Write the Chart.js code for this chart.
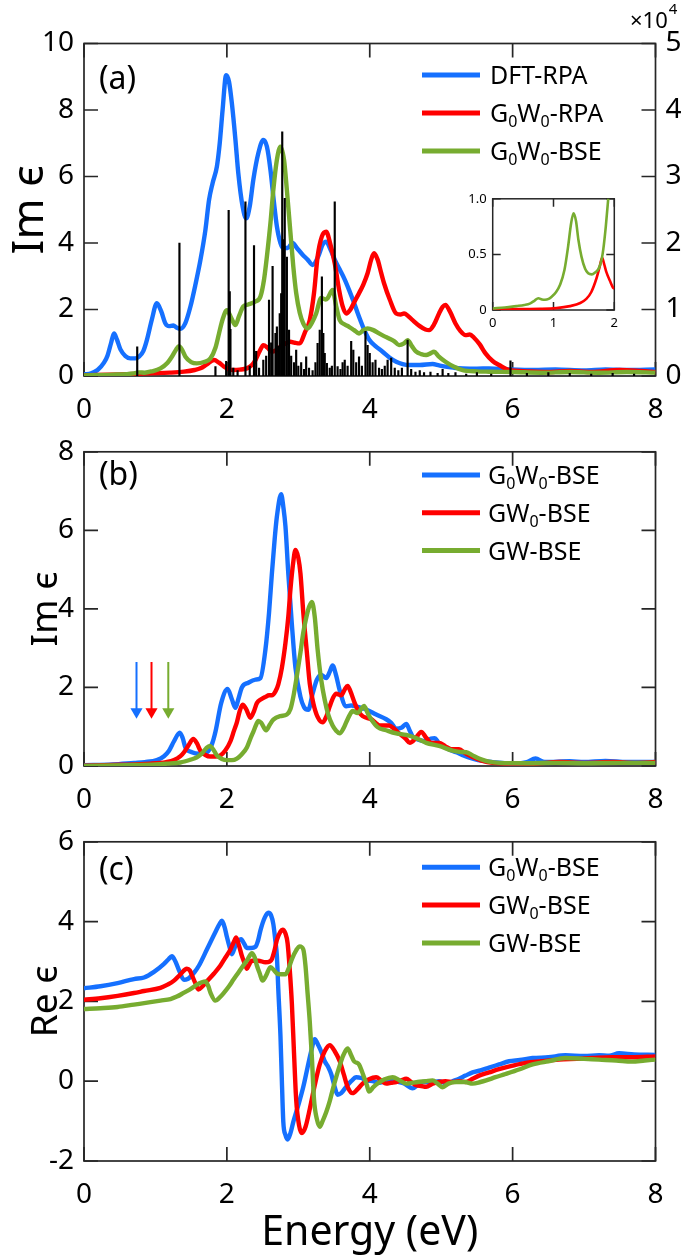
<!DOCTYPE html>
<html><head><meta charset="utf-8">
<script src="https://cdn.jsdelivr.net/npm/chart.js@4.4.1/dist/chart.umd.min.js"></script>
<style>
html,body{margin:0;padding:0;background:#fff;}
#wrap{position:relative;width:685px;height:1258px;overflow:hidden;background:#fff;}
canvas{position:absolute;}
</style></head><body>
<div id="wrap">
<canvas id="cA" width="685" height="425" style="left:0;top:0;width:685px;height:425px"></canvas>
<canvas id="cB" width="685" height="390" style="left:0;top:425px;width:685px;height:390px"></canvas>
<canvas id="cC" width="685" height="443" style="left:0;top:815px;width:685px;height:443px"></canvas>
<canvas id="cIn" width="185" height="150" style="left:440px;top:185px;width:185px;height:150px"></canvas>
</div>
<script>
// ---------- DATA ----------
const xTicks = [0, 2, 4, 6, 8];
// Panel (a): Im eps
const aDftE = [0,0.1,0.19,0.28,0.33,0.38,0.42,0.46,0.51,0.58,0.65,0.72,0.77,0.83,0.88,0.95,1.02,1.08,1.14,1.19,1.25,1.30,1.35,1.42,1.49,1.56,1.63,1.70,1.75,1.80,1.86,1.90,1.94,1.99,2.03,2.07,2.12,2.16,2.22,2.27,2.32,2.37,2.44,2.51,2.56,2.61,2.66,2.70,2.75,2.79,2.85,2.92,2.98,3.06,3.13,3.20,3.28,3.34,3.39,3.45,3.52,3.58,3.65,3.71,3.78,3.85,3.92,3.99,4.08,4.18,4.28,4.37,4.46,4.55,4.70,4.88,4.97,5.06,5.18,5.30,5.50,5.67,5.95,6.3,6.6,7.0,7.3,7.6,8.0];
const aDftIm = [0.05,0.08,0.18,0.4,0.62,1.0,1.28,1.1,0.8,0.6,0.53,0.53,0.58,0.75,1.08,1.7,2.19,1.95,1.58,1.5,1.52,1.45,1.42,1.6,2.09,2.75,3.49,4.4,5.29,5.8,6.3,7.0,8.0,9.05,8.85,8.2,7.1,6.1,5.1,4.74,5.1,5.9,6.7,7.1,6.9,6.2,5.2,4.5,4.0,3.85,3.85,4.0,3.85,3.65,3.5,3.34,3.6,3.95,4.04,3.8,3.45,3.2,2.9,2.59,2.2,1.78,1.4,1.1,0.9,0.73,0.55,0.43,0.36,0.33,0.33,0.36,0.32,0.28,0.25,0.23,0.22,0.23,0.2,0.18,0.2,0.17,0.2,0.18,0.2];
const aG0W0RpaE = [0,0.5,0.93,1.2,1.40,1.55,1.63,1.72,1.82,1.89,1.96,2.03,2.09,2.18,2.28,2.35,2.40,2.46,2.51,2.57,2.63,2.69,2.75,2.82,2.89,2.95,3.02,3.09,3.16,3.22,3.27,3.33,3.39,3.45,3.51,3.57,3.62,3.67,3.73,3.79,3.85,3.91,3.97,4.02,4.06,4.11,4.16,4.20,4.28,4.37,4.43,4.48,4.54,4.60,4.70,4.78,4.83,4.90,4.97,5.02,5.06,5.12,5.20,5.27,5.34,5.40,5.46,5.54,5.62,5.72,5.81,5.95,6.2,6.5,6.8,7.1,7.5,7.8,8.0];
const aG0W0RpaIm = [0.02,0.05,0.08,0.1,0.13,0.18,0.23,0.35,0.48,0.4,0.28,0.2,0.18,0.19,0.23,0.33,0.48,0.75,0.93,0.85,0.73,0.78,0.88,0.98,1.03,1.0,0.98,1.3,1.68,2.5,3.59,4.2,4.34,3.95,3.39,2.6,2.1,1.88,2.0,2.25,2.49,2.75,3.09,3.5,3.69,3.5,3.1,2.79,2.3,1.88,1.85,1.88,1.8,1.68,1.5,1.4,1.38,1.55,1.88,2.08,2.14,1.95,1.58,1.35,1.23,1.25,1.15,0.95,0.68,0.45,0.33,0.18,0.14,0.12,0.15,0.12,0.18,0.15,0.12];
const aG0W0BseE = [0,0.4,0.70,0.77,0.85,0.95,1.07,1.17,1.23,1.29,1.33,1.37,1.42,1.50,1.58,1.68,1.77,1.84,1.89,1.94,2.00,2.06,2.12,2.17,2.23,2.30,2.40,2.47,2.52,2.56,2.61,2.65,2.70,2.75,2.80,2.84,2.89,2.93,2.97,3.02,3.07,3.13,3.19,3.25,3.32,3.38,3.41,3.48,3.53,3.58,3.65,3.71,3.78,3.85,3.91,3.97,4.05,4.13,4.20,4.27,4.34,4.41,4.48,4.53,4.59,4.65,4.72,4.79,4.85,4.90,4.96,5.06,5.18,5.30,5.50,5.67,6.0,6.4,6.8,7.2,7.6,8.0];
const aG0W0BseIm = [0.02,0.04,0.08,0.11,0.1,0.14,0.23,0.4,0.58,0.8,0.9,0.8,0.58,0.42,0.38,0.42,0.53,0.85,1.28,1.7,1.98,1.75,1.53,1.8,2.09,2.15,2.24,2.39,2.9,3.59,4.6,5.59,6.5,6.9,6.5,5.59,4.3,3.29,2.5,1.9,1.58,1.43,1.6,1.88,2.35,2.3,2.34,2.59,2.1,1.68,1.55,1.48,1.38,1.28,1.38,1.43,1.38,1.28,1.2,1.13,1.05,0.93,0.98,1.08,0.9,0.73,0.66,0.63,0.68,0.73,0.6,0.43,0.28,0.18,0.14,0.13,0.12,0.1,0.12,0.1,0.12,0.1];
// oscillator strengths (right axis, x10^4)
const stickE = [0.745,1.336,1.84,1.99,2.025,2.04,2.05,2.09,2.15,2.26,2.32,2.38,2.41,2.45,2.51,2.55,2.59,2.62,2.64,2.68,2.70,2.72,2.74,2.76,2.775,2.79,2.81,2.84,2.87,2.90,2.94,2.97,3.00,3.04,3.08,3.11,3.15,3.20,3.24,3.27,3.30,3.33,3.35,3.37,3.40,3.44,3.47,3.51,3.55,3.59,3.62,3.65,3.69,3.74,3.77,3.81,3.85,3.89,3.94,3.97,4.00,4.04,4.08,4.13,4.17,4.21,4.25,4.30,4.35,4.40,4.45,4.53,4.58,4.64,4.70,4.76,4.85,4.95,5.02,5.10,5.20,5.35,5.50,5.70,5.97,6.20,6.50,6.80,7.10,7.40,7.70];
const stickF = [0.44,2.0,0.14,0.22,2.49,1.27,0.7,0.12,0.08,2.62,0.15,1.96,0.37,0.12,0.24,0.3,1.14,0.5,1.65,0.64,0.74,0.45,0.94,1.24,3.67,2.05,2.67,1.79,0.69,0.3,0.2,0.39,0.15,0.2,0.1,0.29,0.12,0.08,0.2,0.49,0.69,1.49,0.64,0.34,0.19,0.12,0.15,2.62,0.14,0.1,0.2,0.24,0.15,0.52,0.39,0.2,0.29,0.15,0.67,0.46,0.34,0.2,0.24,0.12,0.1,0.15,0.24,0.27,0.12,0.08,0.12,0.54,0.1,0.06,0.08,0.05,0.06,0.04,0.1,0.04,0.05,0.03,0.05,0.03,0.23,0.04,0.05,0.04,0.03,0.04,0.03];
// inset (0-2 eV)
const inG0W0BseE = [0,0.2,0.39,0.52,0.61,0.69,0.75,0.81,0.86,0.92,0.97,1.04,1.11,1.18,1.24,1.29,1.33,1.37,1.41,1.46,1.52,1.57,1.63,1.69,1.74,1.79,1.82,1.86,1.90,1.93];
const inG0W0BseIm = [0.014,0.022,0.035,0.045,0.057,0.085,0.106,0.095,0.092,0.1,0.12,0.16,0.23,0.36,0.57,0.78,0.87,0.8,0.63,0.48,0.37,0.33,0.32,0.34,0.37,0.45,0.55,0.75,1.0,1.2];
const inG0W0RpaE = [0,0.4,0.78,1.05,1.27,1.44,1.54,1.62,1.71,1.76,1.80,1.83,1.87,1.93,1.98,2.0];
const inG0W0RpaIm = [0.006,0.008,0.01,0.017,0.035,0.063,0.1,0.16,0.29,0.39,0.47,0.42,0.34,0.26,0.2,0.19];
// Panel (b): Im eps
const bG0W0E = [0,0.4,0.70,0.85,1.02,1.12,1.19,1.26,1.34,1.38,1.42,1.51,1.61,1.72,1.79,1.84,1.92,2.01,2.07,2.12,2.16,2.21,2.30,2.40,2.47,2.54,2.59,2.63,2.67,2.70,2.76,2.79,2.82,2.86,2.91,2.96,3.03,3.08,3.14,3.20,3.26,3.32,3.39,3.44,3.48,3.53,3.58,3.67,3.74,3.81,3.88,3.95,4.09,4.23,4.30,4.37,4.45,4.51,4.56,4.60,4.70,4.79,4.86,4.91,4.96,5.02,5.11,5.21,5.32,5.44,5.58,5.72,6.04,6.2,6.32,6.45,6.8,7.0,7.3,7.6,8.0];
const bG0W0Im = [0.02,0.04,0.08,0.1,0.15,0.25,0.39,0.63,0.85,0.72,0.47,0.35,0.31,0.35,0.55,0.87,1.6,1.96,1.7,1.48,1.7,2.0,2.12,2.2,2.24,2.97,3.9,4.9,5.8,6.35,6.92,6.6,6.1,4.9,3.6,2.5,1.76,1.5,1.43,1.84,2.2,2.32,2.24,2.4,2.56,2.3,1.92,1.52,1.54,1.52,1.48,1.44,1.31,1.19,1.1,0.95,0.98,1.07,0.9,0.75,0.66,0.63,0.7,0.71,0.6,0.51,0.42,0.35,0.26,0.19,0.13,0.1,0.06,0.1,0.19,0.1,0.12,0.1,0.13,0.1,0.1];
const bGW0E = [0,0.5,0.93,1.15,1.26,1.35,1.40,1.47,1.53,1.58,1.63,1.70,1.77,1.84,1.91,1.98,2.05,2.10,2.14,2.18,2.22,2.27,2.33,2.38,2.42,2.48,2.54,2.59,2.63,2.68,2.72,2.77,2.82,2.86,2.89,2.93,2.96,3.00,3.03,3.07,3.12,3.16,3.21,3.27,3.34,3.39,3.44,3.49,3.53,3.60,3.65,3.69,3.73,3.79,3.84,3.90,4.02,4.08,4.14,4.27,4.34,4.41,4.50,4.56,4.64,4.72,4.79,4.86,4.97,5.06,5.14,5.25,5.34,5.44,5.58,5.72,6.0,6.28,6.65,7.0,7.4,7.7,8.0];
const bGW0Im = [0.01,0.03,0.06,0.1,0.15,0.25,0.35,0.55,0.69,0.58,0.39,0.28,0.24,0.24,0.27,0.4,0.63,0.9,1.11,1.4,1.56,1.45,1.23,1.4,1.6,1.7,1.76,1.8,1.8,1.9,2.08,2.5,3.13,3.8,4.5,5.2,5.5,5.3,4.9,3.9,2.89,2.1,1.6,1.25,1.11,1.25,1.52,1.75,1.84,1.8,1.95,2.04,1.9,1.6,1.4,1.27,1.19,1.1,1.03,1.03,0.95,0.83,0.7,0.59,0.7,0.87,0.72,0.59,0.59,0.5,0.43,0.43,0.32,0.23,0.13,0.08,0.06,0.06,0.1,0.08,0.1,0.08,0.1];
const bGWE = [0,0.6,1.0,1.16,1.35,1.49,1.58,1.65,1.71,1.76,1.81,1.86,1.93,2.00,2.07,2.14,2.21,2.28,2.33,2.37,2.41,2.44,2.48,2.55,2.60,2.65,2.75,2.84,2.89,2.93,2.98,3.03,3.07,3.11,3.15,3.19,3.23,3.27,3.32,3.37,3.42,3.48,3.53,3.58,3.63,3.67,3.72,3.76,3.83,3.88,3.92,3.97,4.02,4.11,4.23,4.37,4.51,4.65,4.79,4.97,5.16,5.26,5.35,5.44,5.53,5.65,5.81,6.2,6.6,7.0,7.5,8.0];
const bGWIm = [0.0,0.02,0.04,0.06,0.09,0.16,0.22,0.32,0.45,0.51,0.42,0.27,0.18,0.15,0.15,0.19,0.3,0.47,0.7,0.87,1.05,1.15,1.1,0.91,1.05,1.18,1.27,1.31,1.45,1.76,2.3,2.89,3.4,3.77,4.05,4.18,3.8,2.97,2.2,1.68,1.3,1.03,0.9,0.83,0.95,1.11,1.3,1.4,1.35,1.45,1.53,1.35,1.19,0.99,0.91,0.83,0.79,0.71,0.59,0.51,0.39,0.36,0.35,0.27,0.19,0.12,0.08,0.07,0.08,0.07,0.08,0.08];
// arrows (onset markers) in (b)
const arrowE = [0.735, 0.945, 1.18];
const arrowTop = 2.65, arrowHead = 1.38;
// Panel (c): Re eps
const cG0W0E = [0,0.23,0.47,0.70,0.84,0.98,1.12,1.18,1.23,1.28,1.33,1.40,1.45,1.49,1.55,1.61,1.72,1.84,1.90,1.93,1.97,2.00,2.04,2.07,2.11,2.14,2.20,2.24,2.28,2.34,2.40,2.44,2.47,2.53,2.58,2.62,2.65,2.68,2.70,2.72,2.75,2.77,2.79,2.82,2.85,2.89,2.93,3.0,3.07,3.13,3.18,3.23,3.28,3.33,3.37,3.42,3.46,3.51,3.55,3.60,3.67,3.74,3.81,3.88,3.95,4.04,4.13,4.22,4.32,4.40,4.48,4.60,4.68,4.74,4.88,4.97,5.07,5.16,5.25,5.34,5.44,5.55,5.67,5.81,5.95,6.10,6.28,6.50,6.74,7.0,7.21,7.35,7.49,7.7,8.0];
const cG0W0Re = [2.33,2.38,2.46,2.56,2.6,2.74,2.94,3.05,3.13,3.0,2.78,2.54,2.56,2.62,2.74,2.9,3.3,3.74,3.95,4.02,3.85,3.62,3.35,3.18,3.35,3.46,3.56,3.45,3.34,3.34,3.37,3.55,3.78,4.1,4.22,4.15,3.94,3.5,3.14,2.3,1.14,0.0,-1.02,-1.35,-1.46,-1.3,-1.02,-0.6,-0.14,0.35,0.75,1.05,0.9,0.7,0.5,0.35,0.18,-0.15,-0.34,-0.3,-0.14,0.0,0.1,0.08,0.02,0.0,-0.04,0.0,0.02,-0.02,-0.06,-0.18,-0.08,-0.02,-0.02,0.0,-0.06,0.0,0.06,0.14,0.22,0.27,0.34,0.42,0.5,0.53,0.58,0.6,0.65,0.63,0.65,0.64,0.7,0.67,0.66];
const cGW0E = [0,0.23,0.47,0.70,0.84,1.07,1.17,1.26,1.35,1.44,1.48,1.51,1.56,1.60,1.66,1.72,1.82,1.91,1.98,2.05,2.10,2.13,2.17,2.21,2.25,2.28,2.32,2.35,2.44,2.54,2.60,2.63,2.67,2.70,2.75,2.78,2.82,2.85,2.88,2.91,2.94,2.97,3.01,3.05,3.10,3.16,3.23,3.30,3.37,3.44,3.51,3.58,3.64,3.69,3.76,3.83,3.90,3.99,4.09,4.16,4.23,4.30,4.37,4.44,4.51,4.58,4.65,4.72,4.79,4.88,4.97,5.06,5.16,5.25,5.34,5.44,5.53,5.67,5.81,6.0,6.18,6.4,6.65,6.9,7.12,7.4,7.67,8.0];
const cGW0Re = [2.04,2.08,2.14,2.21,2.26,2.34,2.42,2.52,2.68,2.82,2.78,2.66,2.45,2.3,2.38,2.5,2.7,2.9,3.1,3.3,3.5,3.6,3.4,3.14,2.95,2.82,2.95,3.02,3.02,2.98,3.0,3.06,3.3,3.54,3.75,3.8,3.7,3.46,2.8,1.94,0.7,-0.46,-1.1,-1.3,-1.15,-0.7,-0.1,0.42,0.75,0.9,0.75,0.5,0.15,-0.14,-0.3,-0.2,-0.06,0.05,0.1,0.02,-0.06,-0.04,-0.02,0.02,0.06,-0.02,-0.1,-0.12,-0.14,-0.06,-0.02,0.0,-0.02,0.0,-0.02,0.06,0.14,0.22,0.3,0.39,0.46,0.5,0.54,0.56,0.58,0.6,0.6,0.62];
const cGWE = [0,0.23,0.47,0.70,0.93,1.07,1.21,1.30,1.40,1.50,1.58,1.65,1.70,1.74,1.77,1.84,1.90,1.96,2.03,2.09,2.16,2.23,2.29,2.35,2.39,2.42,2.46,2.50,2.55,2.61,2.65,2.70,2.76,2.82,2.87,2.91,2.97,3.02,3.07,3.10,3.13,3.16,3.19,3.22,3.26,3.30,3.34,3.39,3.44,3.48,3.53,3.57,3.63,3.69,3.74,3.78,3.85,3.89,3.92,3.96,3.99,4.05,4.11,4.20,4.32,4.42,4.51,4.60,4.67,4.78,4.88,4.95,5.02,5.10,5.21,5.33,5.44,5.55,5.63,5.76,5.90,6.1,6.28,6.5,6.74,7.0,7.21,7.45,7.67,7.85,8.0];
const cGWRe = [1.81,1.83,1.86,1.92,1.98,2.02,2.06,2.12,2.22,2.32,2.42,2.48,2.5,2.38,2.22,2.02,2.1,2.22,2.38,2.54,2.72,2.9,3.05,3.21,3.1,2.9,2.7,2.52,2.65,2.86,2.8,2.7,2.68,2.68,2.85,3.06,3.28,3.38,3.3,2.9,2.2,1.5,0.6,-0.46,-0.95,-1.14,-1.0,-0.78,-0.5,-0.22,0.1,0.34,0.65,0.82,0.65,0.5,0.42,0.25,0.1,-0.1,-0.26,-0.15,-0.06,0.04,0.1,0.02,-0.06,-0.04,-0.02,0.0,0.02,-0.06,-0.15,-0.06,-0.02,-0.02,-0.06,-0.02,0.02,0.1,0.18,0.3,0.42,0.5,0.58,0.56,0.54,0.52,0.49,0.52,0.54];

// ---------- STYLE ----------
const BLUE = '#1570FF', RED = '#FF0000', GREEN = '#77AC30', AX = '#262626';
const FONT = "'Noto Sans', 'Open Sans', sans-serif";
Chart.defaults.font.family = FONT;
Chart.defaults.color = '#000';

function xy(E, V) { return E.map((e, i) => ({ x: e, y: V[i] })); }
function curve(label, E, V, color, order, legendIndex, w) {
  return { type: 'line', label, data: xy(E, V), borderColor: color, backgroundColor: color,
    borderWidth: w || 4.4, pointRadius: 0, cubicInterpolationMode: 'monotone', fill: false, order, legendIndex };
}

const boxTicks = {
  id: 'boxTicks',
  beforeDraw(chart, args, o) {
    const { ctx, chartArea: a } = chart;
    if (o.bg) { ctx.save(); ctx.fillStyle = '#fff'; ctx.fillRect(a.left, a.top, a.right - a.left, a.bottom - a.top); ctx.restore(); }
  },
  beforeDatasetsDraw(chart, args, o) {
    const { ctx, chartArea: a } = chart;
    const xs = chart.scales.x, ys = chart.scales.y, L = o.len;
    ctx.save();
    ctx.strokeStyle = AX; ctx.lineWidth = o.lw;
    ctx.beginPath();
    xs.ticks.forEach(t => { const p = xs.getPixelForValue(t.value);
      ctx.moveTo(p, a.bottom); ctx.lineTo(p, a.bottom - L); ctx.moveTo(p, a.top); ctx.lineTo(p, a.top + L); });
    ys.ticks.forEach(t => { const p = ys.getPixelForValue(t.value);
      ctx.moveTo(a.left, p); ctx.lineTo(a.left + L, p); ctx.moveTo(a.right, p); ctx.lineTo(a.right - L, p); });
    ctx.stroke();
    ctx.strokeRect(a.left, a.top, a.right - a.left, a.bottom - a.top);
    ctx.restore();
  }
};

function drawRich(ctx, text, x, y, size) {
  // '₀' drawn as a lowered, smaller 0
  let cx = x;
  for (const part of text.split(/(₀)/)) {
    if (!part) continue;
    if (part === '₀') {
      ctx.font = `${Math.round(size * 0.62)}px ${FONT}`;
      ctx.fillText('0', cx, y + size * 0.2);
      cx += ctx.measureText('0').width;
    } else {
      ctx.font = `${size}px ${FONT}`;
      ctx.fillText(part, cx, y);
      cx += ctx.measureText(part).width;
    }
  }
}

const panelText = {
  id: 'panelText',
  afterDraw(chart, args, o) {
    const ctx = chart.ctx;
    ctx.save();
    ctx.fillStyle = '#000';
    ctx.textAlign = 'left'; ctx.textBaseline = 'alphabetic';
    ctx.font = `${o.tagSize}px ${FONT}`;
    ctx.fillText(o.tag, o.tagX, o.tagY);
    const items = chart.data.datasets.filter(d => d.legendIndex !== undefined)
      .sort((p, q) => p.legendIndex - q.legendIndex);
    items.forEach((d, i) => {
      const y = o.legY + i * o.legDy;
      ctx.strokeStyle = d.borderColor; ctx.lineWidth = 5; ctx.lineCap = 'butt';
      ctx.beginPath(); ctx.moveTo(o.legX0, y); ctx.lineTo(o.legX1, y); ctx.stroke();
      ctx.fillStyle = '#000';
      drawRich(ctx, d.label, o.legTx, y + o.legSize * 0.36, o.legSize);
    });
    if (o.exp) {
      ctx.font = `22px ${FONT}`;
      ctx.fillText('×10', 630, 28);
      const w = ctx.measureText('×10').width;
      ctx.font = `15px ${FONT}`;
      ctx.fillText('4', 630 + w + 1, 14);
    }
    ctx.restore();
  }
};

function xAxis(h, pad, title) {
  return { type: 'linear', min: 0, max: 8, offset: false,
    grid: { display: false, drawTicks: false }, border: { display: false },
    afterBuildTicks(s) { s.ticks = xTicks.map(v => ({ value: v })); },
    ticks: { font: { size: 28 }, color: '#000', padding: pad, maxRotation: 0, autoSkip: false },
    title: title || { display: false },
    afterFit(s) { s.height = h; } };
}
function yAxis(min, max, step, title, tsize, tpad) {
  return { type: 'linear', min, max, position: 'left',
    grid: { display: false, drawTicks: false }, border: { display: false },
    ticks: { stepSize: step, font: { size: 28 }, color: '#000', padding: 10 },
    title: { display: true, text: title, font: { size: tsize }, color: '#000', padding: { top: tpad, bottom: 0 } },
    afterFit(s) { s.width = 84; } };
}
const baseOpts = { responsive: false, maintainAspectRatio: false, animation: false, devicePixelRatio: 1, events: [] };

// ---------- (a) ----------
new Chart(document.getElementById('cA'), {
  type: 'line',
  data: { datasets: [
    { type: 'bar', label: 'strength', data: xy(stickE, stickF), yAxisID: 'y1', backgroundColor: '#000', borderWidth: 0, barThickness: 1.5, grouped: false, order: 0 },
    curve('G₀W₀-BSE', aG0W0BseE, aG0W0BseIm, GREEN, 1, 2),
    curve('G₀W₀-RPA', aG0W0RpaE, aG0W0RpaIm, RED, 2, 1),
    curve('DFT-RPA', aDftE, aDftIm, BLUE, 3, 0),
  ] },
  options: { ...baseOpts,
    layout: { padding: { top: 43.5, left: 0, right: 0, bottom: 0 } },
    plugins: { legend: { display: false }, tooltip: { enabled: false },
      boxTicks: { len: 14, lw: 1.7 },
      panelText: { tag: '(a)', tagSize: 32, tagX: 99, tagY: 89, legX0: 422, legX1: 480, legTx: 490, legY: 75, legDy: 38, legSize: 25, exp: true } },
    scales: {
      x: xAxis(49, 17),
      y: yAxis(0, 10, 2, 'Im ϵ', 44, 4),
      y1: { type: 'linear', min: 0, max: 5, position: 'right',
        grid: { display: false, drawTicks: false }, border: { display: false },
        ticks: { stepSize: 1, font: { size: 28 }, color: '#000', padding: 10 },
        afterFit(s) { s.width = 29.5; } }
    } },
  plugins: [boxTicks, panelText]
});

// ---------- inset ----------
new Chart(document.getElementById('cIn'), {
  type: 'line',
  data: { datasets: [
    curve('G₀W₀-BSE', inG0W0BseE, inG0W0BseIm, GREEN, 1, undefined, 2.6),
    curve('G₀W₀-RPA', inG0W0RpaE, inG0W0RpaIm, RED, 2, undefined, 2.6),
  ] },
  options: { ...baseOpts,
    layout: { padding: { top: 9, left: 0, right: 10.7, bottom: 0 } },
    plugins: { legend: { display: false }, tooltip: { enabled: false }, boxTicks: { len: 8, lw: 1.5, bg: true } },
    scales: {
      x: { type: 'linear', min: 0, max: 2, grid: { display: false, drawTicks: false }, border: { display: false },
        ticks: { stepSize: 1, font: { size: 13 }, color: '#000', padding: 5 }, afterFit(s) { s.height = 25; } },
      y: { type: 'linear', min: 0, max: 1, grid: { display: false, drawTicks: false }, border: { display: false },
        ticks: { stepSize: 0.5, font: { size: 13 }, color: '#000', padding: 6, callback: v => v === 0 ? '0' : v.toFixed(1) },
        afterFit(s) { s.width = 52.7; } }
    } },
  plugins: [boxTicks]
});

// ---------- (b) ----------
const arrowSets = arrowE.map((e, i) => ({ type: 'line', label: 'onset' + i, data: [{ x: e, y: arrowTop }, { x: e, y: arrowHead }],
  borderColor: [BLUE, RED, GREEN][i], backgroundColor: [BLUE, RED, GREEN][i], borderWidth: 2,
  pointRadius: [0, 7], pointStyle: 'triangle', rotation: 180, pointBorderWidth: 0, order: 0 }));
new Chart(document.getElementById('cB'), {
  type: 'line',
  data: { datasets: [
    curve('G₀W₀-BSE', bG0W0E, bG0W0Im, BLUE, 3, 0),
    curve('GW₀-BSE', bGW0E, bGW0Im, RED, 2, 1),
    curve('GW-BSE', bGWE, bGWIm, GREEN, 1, 2),
    ...arrowSets
  ] },
  options: { ...baseOpts,
    layout: { padding: { top: 10.5, left: 0, right: 29.5, bottom: 0 } },
    plugins: { legend: { display: false }, tooltip: { enabled: false },
      boxTicks: { len: 14, lw: 1.7 },
      panelText: { tag: '(b)', tagSize: 32, tagX: 99, tagY: 60, legX0: 422, legX1: 480, legTx: 488, legY: 50, legDy: 37.8, legSize: 25 } },
    scales: { x: xAxis(49, 17), y: yAxis(0, 8, 2, 'Im ϵ', 37, 24) } },
  plugins: [boxTicks, panelText]
});

// ---------- (c) ----------
new Chart(document.getElementById('cC'), {
  type: 'line',
  data: { datasets: [
    curve('G₀W₀-BSE', cG0W0E, cG0W0Re, BLUE, 3, 0),
    curve('GW₀-BSE', cGW0E, cGW0Re, RED, 2, 1),
    curve('GW-BSE', cGWE, cGWRe, GREEN, 1, 2),
  ] },
  options: { ...baseOpts,
    layout: { padding: { top: 13, left: 0, right: 29.5, bottom: 0 } },
    plugins: { legend: { display: false }, tooltip: { enabled: false },
      boxTicks: { len: 14, lw: 1.7 },
      panelText: { tag: '(c)', tagSize: 32, tagX: 99, tagY: 65, legX0: 422, legX1: 480, legTx: 488, legY: 52.3, legDy: 37.8, legSize: 25 } },
    scales: { x: xAxis(97, 17, { display: true, text: 'Energy (eV)', font: { size: 41 }, color: '#000', padding: { top: 0, bottom: 0 } }),
      y: yAxis(-2, 6, 2, 'Re ϵ', 37, 24) } },
  plugins: [boxTicks, panelText]
});
</script>
</body></html>
